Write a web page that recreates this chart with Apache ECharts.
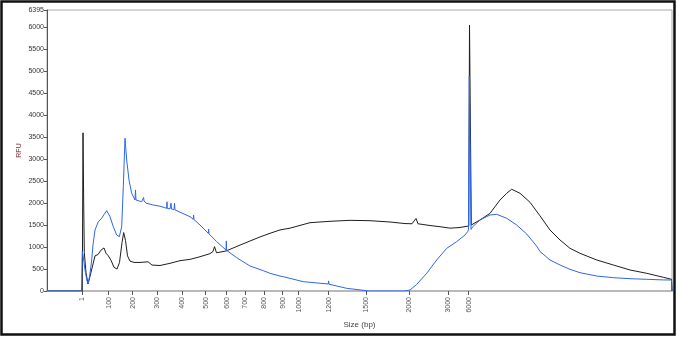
<!DOCTYPE html>
<html>
<head>
<meta charset="utf-8">
<script src="https://cdn.jsdelivr.net/npm/echarts@6/dist/echarts.min.js"></script>
<style>
html,body{margin:0;padding:0;background:#fff;}
#chart{width:677px;height:340px;}
</style>
</head>
<body>
<div id="chart"></div>
<script>
// x values are migration positions (scan units), sizes come from the ladder ticks
var sizeTickPos    = [35.3, 61.7, 85.7, 110.3, 135, 158.7, 179.7, 198, 217, 235.7, 251.7, 281.7, 319.3, 362.3, 401, 421.7];
var sizeTickLabels = ['1','100','200','300','400','500','600','700','800','900','1000','1200','1500','2000','3000','6000'];
var rfuTicks = [0,500,1000,1500,2000,2500,3000,3500,4000,4500,5000,5500,6000,6395];

var blackX = [0,35.3,36,36.7,37.3,39,41,43,45,48,51,54,57,59,61,64,67,70,72.5,75,76.7,78.5,80.5,83,87,93,101,105,113,123,133,143,153,163,166,167.5,169.5,179,193,213,223,233,243,263,283,303,323,343,358,365,369,371,383,393,403,413,419,421.8,422.5,423.5,424.3,424.7,427,433,443,453,459.7,464.7,473,483,493,503,513,523,533,549.7,566.3,583,599.7,616.3,624.5,625];
var blackY = [0,0,3600,2000,870,420,160,330,520,800,830,930,980,860,810,700,540,500,650,1100,1330,1150,800,680,650,650,665,590,580,630,690,720,780,850,900,1010,870,910,1045,1230,1313,1390,1430,1555,1586,1608,1600,1570,1535,1530,1650,1530,1490,1463,1430,1445,1470,1480,6050,6050,1500,1500,1540,1616,1768,2071,2224,2315,2224,2020,1710,1388,1161,971,858,706,592,478,403,312,266,0];

var blueX = [0,34.5,35.3,36,38,40,41.3,43,44.7,46,48,51.3,54.7,57,59.7,63,66.3,69.7,72.3,74.7,76.3,78,79.7,82,84.7,88,88.5,89,91,94.7,96.3,96.6,97,99,106.3,113,119.7,120,120.3,123,124,124.5,127,127.5,128,129.7,143,146.3,146.6,147,153,161.3,161.6,162,169.7,179,179.3,179.6,189.7,203,216.3,223,233,236.3,256.3,281.3,281.6,282,299.7,319.7,323,358,363,369.7,379.7,389.7,399.7,409.7,418,420.7,421.5,422.3,423.2,424,425.7,433,443,449.7,459.7,469.7,479.7,489.7,493,503,513,523,533,549.7,566.3,583,599.7,616.3,624.5,625];
var blueY = [0,0,900,820,480,230,175,400,706,1050,1388,1577,1655,1740,1828,1691,1463,1275,1236,1463,2374,3476,2982,2526,2224,2071,2300,2071,2050,2032,2055,2130,2050,2000,1957,1930,1882,2030,1880,1870,2000,1865,1850,2000,1845,1805,1691,1632,1730,1625,1502,1313,1410,1300,1123,933,1140,925,758,569,462,403,340,326,212,159,230,155,61,7,0,0,23,150,403,706,971,1123,1275,1350,1400,4900,4900,1400,1463,1616,1730,1745,1655,1502,1297,1020,900,706,592,493,417,341,303,280,266,252,250,0];

function pairs(xs, ys){ return xs.map(function(x,i){ return [x, ys[i]]; }); }

var chart = echarts.init(document.getElementById('chart'), null, {renderer:'canvas'});
var font = 'Liberation Sans, Arial, sans-serif';
chart.setOption({
  animation:false,
  backgroundColor:'#fff',
  grid:{left:47, top:10, right:5, bottom:49, show:true, borderColor:'#a8a8a8', borderWidth:1, containLabel:false},
  xAxis:{
    type:'value', min:0, max:625,
    name:'Size (bp)', nameLocation:'middle', nameGap:29,
    nameTextStyle:{fontFamily:font, fontSize:8, color:'#444'},
    axisLine:{show:true, lineStyle:{color:'#b8b8b8', width:2}},
    splitLine:{show:false},
    axisTick:{show:true, customValues:sizeTickPos, length:4, lineStyle:{color:'#555'}},
    axisLabel:{
      customValues:sizeTickPos, rotate:90, fontSize:7, fontFamily:font, margin:6,
      formatter:function(v){ var i = sizeTickPos.indexOf(v); return i>=0 ? sizeTickLabels[i] : ''; },
      color:function(v){ return v===sizeTickPos[0] ? '#b03030' : '#555'; }
    }
  },
  yAxis:{
    type:'value', min:0, max:6395,
    name:'RFU', nameLocation:'middle', nameGap:24, nameRotate:90, nameMoveOverlap:false,
    nameTextStyle:{fontFamily:font, fontSize:7, color:'#7a2a2a'},
    axisLine:{show:true, lineStyle:{color:'#555', width:1}},
    splitLine:{show:false},
    axisTick:{show:true, customValues:rfuTicks, length:3, lineStyle:{color:'#555'}},
    axisLabel:{customValues:rfuTicks, fontSize:7, fontFamily:font, color:'#333', margin:3,
      formatter:function(v){ return String(v); }}
  },
  series:[
    {type:'line', data:pairs(blackX, blackY), showSymbol:false, symbol:'none', lineStyle:{color:'#1e1e1e', width:1}, z:2},
    {type:'line', data:pairs(blueX, blueY), showSymbol:false, symbol:'none', lineStyle:{color:'#2f66e8', width:1}, z:3}
  ],
  graphic:[{type:'rect', shape:{x:1.5, y:1.5, width:673, height:333}, style:{fill:'none', stroke:'#111', lineWidth:2.5}, z:100}]
});
</script>
</body>
</html>
